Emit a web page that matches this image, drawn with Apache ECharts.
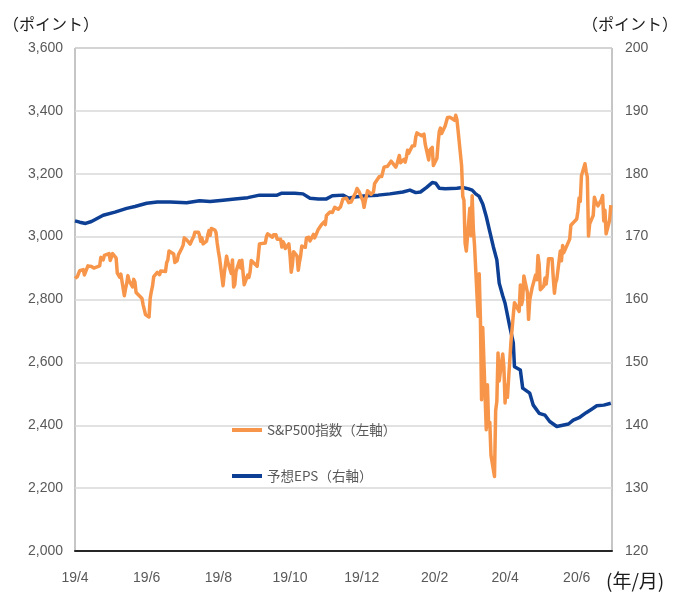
<!DOCTYPE html>
<html>
<head>
<meta charset="utf-8">
<script src="https://cdn.jsdelivr.net/npm/echarts@6/dist/echarts.min.js"></script>
<style>
html,body{margin:0;padding:0;background:#fff;}
#chart{width:677px;height:595px;}
</style>
</head>
<body>
<div id="chart"></div>
<script>
// ---- Data ----
const spxDates = [
'2019-04-01','2019-04-03','2019-04-05','2019-04-08','2019-04-09','2019-04-10','2019-04-12','2019-04-15','2019-04-17','2019-04-18','2019-04-22','2019-04-23','2019-04-25','2019-04-26','2019-04-30',
'2019-05-01','2019-05-02','2019-05-03','2019-05-06','2019-05-07','2019-05-09','2019-05-10','2019-05-13','2019-05-14','2019-05-15','2019-05-16','2019-05-17','2019-05-20','2019-05-21','2019-05-22','2019-05-23','2019-05-24','2019-05-28','2019-05-29','2019-05-30','2019-05-31',
'2019-06-03','2019-06-04','2019-06-05','2019-06-06','2019-06-07','2019-06-10','2019-06-12','2019-06-13','2019-06-14','2019-06-17','2019-06-18','2019-06-19','2019-06-20','2019-06-21','2019-06-24','2019-06-25','2019-06-26','2019-06-27','2019-06-28',
'2019-07-01','2019-07-02','2019-07-03','2019-07-05','2019-07-08','2019-07-09','2019-07-10','2019-07-11','2019-07-12','2019-07-15','2019-07-16','2019-07-17','2019-07-18','2019-07-19','2019-07-22','2019-07-23','2019-07-24','2019-07-25','2019-07-26','2019-07-29','2019-07-30','2019-07-31',
'2019-08-01','2019-08-02','2019-08-05','2019-08-06','2019-08-07','2019-08-08','2019-08-09','2019-08-12','2019-08-13','2019-08-14','2019-08-15','2019-08-16','2019-08-19','2019-08-20','2019-08-21','2019-08-22','2019-08-23','2019-08-26','2019-08-27','2019-08-28','2019-08-29','2019-08-30',
'2019-09-03','2019-09-04','2019-09-05','2019-09-06','2019-09-10','2019-09-11','2019-09-12','2019-09-13','2019-09-16','2019-09-17','2019-09-19','2019-09-20','2019-09-23','2019-09-24','2019-09-25','2019-09-26','2019-09-27','2019-09-30',
'2019-10-01','2019-10-02','2019-10-03','2019-10-04','2019-10-07','2019-10-08','2019-10-09','2019-10-10','2019-10-11','2019-10-14','2019-10-15','2019-10-16','2019-10-17','2019-10-18','2019-10-21','2019-10-22','2019-10-23','2019-10-24','2019-10-25','2019-10-28','2019-10-29','2019-10-30','2019-10-31',
'2019-11-01','2019-11-04','2019-11-06','2019-11-07','2019-11-08','2019-11-11','2019-11-13','2019-11-14','2019-11-15','2019-11-18','2019-11-19','2019-11-20','2019-11-21','2019-11-22','2019-11-25','2019-11-26','2019-11-27','2019-11-29',
'2019-12-02','2019-12-03','2019-12-04','2019-12-05','2019-12-06','2019-12-09','2019-12-10','2019-12-11','2019-12-12','2019-12-13','2019-12-16','2019-12-17','2019-12-18','2019-12-19','2019-12-20','2019-12-23','2019-12-24','2019-12-26','2019-12-27','2019-12-30','2019-12-31',
'2020-01-02','2020-01-03','2020-01-06','2020-01-07','2020-01-08','2020-01-09','2020-01-10','2020-01-13','2020-01-14','2020-01-15','2020-01-16','2020-01-17','2020-01-21','2020-01-22','2020-01-23','2020-01-24','2020-01-27','2020-01-28','2020-01-29','2020-01-30','2020-01-31',
'2020-02-03','2020-02-04','2020-02-05','2020-02-06','2020-02-07','2020-02-10','2020-02-11','2020-02-12','2020-02-13','2020-02-14','2020-02-18','2020-02-19','2020-02-20','2020-02-21','2020-02-24','2020-02-25','2020-02-26','2020-02-27','2020-02-28',
'2020-03-02','2020-03-03','2020-03-04','2020-03-05','2020-03-06','2020-03-09','2020-03-10','2020-03-11','2020-03-12','2020-03-13','2020-03-16','2020-03-17','2020-03-18','2020-03-19','2020-03-20','2020-03-23','2020-03-24','2020-03-25','2020-03-26','2020-03-27','2020-03-30','2020-03-31',
'2020-04-01','2020-04-02','2020-04-03','2020-04-06','2020-04-07','2020-04-08','2020-04-09','2020-04-13','2020-04-14','2020-04-15','2020-04-16','2020-04-17','2020-04-20','2020-04-21','2020-04-22','2020-04-23','2020-04-24','2020-04-27','2020-04-28','2020-04-29','2020-04-30',
'2020-05-01','2020-05-04','2020-05-05','2020-05-06','2020-05-07','2020-05-08','2020-05-11','2020-05-12','2020-05-13','2020-05-14','2020-05-15','2020-05-18','2020-05-19','2020-05-20','2020-05-21','2020-05-22','2020-05-26','2020-05-27','2020-05-28','2020-05-29',
'2020-06-01','2020-06-02','2020-06-03','2020-06-04','2020-06-05','2020-06-08','2020-06-09','2020-06-10','2020-06-11','2020-06-12','2020-06-15','2020-06-16','2020-06-17','2020-06-18','2020-06-19','2020-06-22','2020-06-23','2020-06-24','2020-06-25','2020-06-26','2020-06-29','2020-06-30'
];
const spxValues = [
2867,2873,2892,2895,2878,2888,2907,2905,2900,2905,2907,2934,2926,2940,2946,
2924,2918,2946,2932,2884,2871,2881,2812,2834,2851,2876,2860,2840,2864,2856,2822,2826,2803,2783,2789,2752,
2744,2804,2826,2843,2873,2886,2879,2891,2887,2889,2917,2926,2954,2950,2945,2918,2914,2924,2942,
2964,2973,2996,2990,2976,2980,2993,3000,3014,3014,3004,2985,2996,2977,2986,3005,3019,3004,3026,3021,3013,2980,
2954,2932,2844,2882,2884,2938,2919,2883,2926,2840,2848,2889,2923,2900,2925,2923,2847,2878,2870,2888,2924,2926,
2906,2938,2977,2979,2980,3001,3009,3007,2998,3006,3006,2992,2992,2967,2984,2977,2962,2977,
2940,2887,2910,2952,2938,2893,2919,2938,2970,2966,2996,2990,2998,2986,3007,2996,3005,3010,3023,3039,3036,3047,3038,
3067,3078,3077,3085,3093,3087,3095,3097,3120,3122,3120,3108,3104,3110,3134,3141,3153,3141,
3114,3093,3113,3117,3146,3135,3133,3142,3169,3169,3191,3192,3191,3206,3221,3224,3223,3240,3240,3221,3231,
3258,3235,3246,3237,3253,3275,3265,3288,3283,3289,3317,3330,3321,3321,3326,3295,3244,3276,3273,3284,3226,
3249,3298,3334,3345,3328,3352,3358,3379,3374,3380,3370,3386,3373,3338,3226,3128,3116,2979,2954,
3090,3003,3130,3024,2972,2747,2882,2741,2481,2711,2386,2529,2398,2409,2305,2237,2447,2476,2630,2541,2627,2585,
2471,2527,2489,2664,2659,2750,2790,2762,2846,2784,2800,2875,2823,2737,2799,2798,2837,2878,2863,2940,2912,
2831,2843,2868,2849,2882,2930,2930,2870,2820,2853,2864,2954,2923,2972,2949,2955,2992,3036,3030,3044,
3056,3081,3123,3112,3194,3232,3207,3190,3002,3041,3067,3125,3113,3115,3098,3118,3131,3050,3084,3009,3053,3100
];

const epsDates = [
'2019-04-01','2019-04-05','2019-04-10','2019-04-15','2019-04-25','2019-05-05','2019-05-15','2019-05-22','2019-06-01','2019-06-10','2019-06-21',
'2019-07-05','2019-07-16','2019-07-25','2019-08-05','2019-08-15','2019-08-26','2019-09-05','2019-09-20','2019-09-24','2019-10-05','2019-10-12',
'2019-10-18','2019-10-25','2019-11-01','2019-11-06','2019-11-15','2019-11-20','2019-11-25','2019-12-05','2019-12-15','2019-12-25',
'2020-01-05','2020-01-11','2020-01-16','2020-01-20','2020-01-25','2020-01-30','2020-02-02','2020-02-05','2020-02-10','2020-02-20','2020-02-25',
'2020-03-01','2020-03-04','2020-03-07','2020-03-10','2020-03-13','2020-03-16','2020-03-19','2020-03-22','2020-03-25','2020-03-27','2020-03-30',
'2020-04-01','2020-04-05','2020-04-08','2020-04-09','2020-04-14','2020-04-16','2020-04-22','2020-04-25','2020-04-30',
'2020-05-05','2020-05-09','2020-05-15','2020-05-20','2020-05-25','2020-05-29','2020-06-03','2020-06-09','2020-06-14','2020-06-18','2020-06-24','2020-06-30'
];
const epsValues = [
172.5,172.3,172.1,172.4,173.4,173.9,174.5,174.8,175.3,175.5,175.5,
175.4,175.7,175.6,175.8,176.0,176.2,176.6,176.6,176.9,176.9,176.8,
176.1,176.0,176.0,176.5,176.6,176.1,176.3,176.5,176.6,176.8,
177.1,177.4,177.0,177.1,177.8,178.6,178.5,177.7,177.6,177.7,177.8,
177.6,177.4,176.8,176.4,175.2,173.2,170.8,168.4,166.3,162.6,160.6,
159.4,155.7,153.1,149.3,148.8,145.9,145.1,143.2,141.9,
141.6,140.6,139.8,140.0,140.2,140.8,141.2,142.0,142.6,143.1,143.2,143.5
];

const seriesNames = ['S&P500指数（左軸）', '予想EPS（右軸）'];
const xStart = '2019-04-01';
const xEnd = '2020-07-01';
const xTickDates = ['2019-04-01','2019-06-01','2019-08-01','2019-10-01','2019-12-01','2020-02-01','2020-04-01','2020-06-01'];
const xTickLabels = ['19/4','19/6','19/8','19/10','19/12','20/2','20/4','20/6'];
const leftTicks = [2000,2200,2400,2600,2800,3000,3200,3400,3600];
const rightTicks = [120,130,140,150,160,170,180,190,200];

// ---- Helpers: convert dates to day numbers since xStart ----
function ts(s){ const p = s.split('-').map(Number); return Date.UTC(p[0], p[1]-1, p[2]); }
function dayNum(s){ return Math.round((ts(s) - ts(xStart)) / 86400000); }
const xTickDays = xTickDates.map(dayNum);

const chart = echarts.init(document.getElementById('chart'), null, {renderer:'canvas'});
const labelFont = 'Liberation Sans, Arial, sans-serif';
const jpFont = '"Noto Sans CJK JP", sans-serif';

chart.setOption({
  animation: false,
  backgroundColor: '#ffffff',
  grid: {left: 75, right: 65, top: 48, bottom: 44, show: true, borderColor: '#8c8c8c', borderWidth: 1, containLabel: false},
  legend: {
    data: seriesNames,
    orient: 'vertical', left: 227, top: 417, itemGap: 30, padding: 5,
    icon: 'rect', itemWidth: 30, itemHeight: 4,
    textStyle: {fontSize: 13.5, color: '#595959', fontFamily: jpFont, lineHeight: 16}
  },
  graphic: [
    {type: 'text', left: 3, top: 16, style: {text: '（ポイント）', fontSize: 16, fill: '#1a1a1a', fontFamily: jpFont}},
    {type: 'text', left: 582, top: 16, style: {text: '（ポイント）', fontSize: 16, fill: '#1a1a1a', fontFamily: jpFont}},
    {type: 'text', left: 606, top: 571, style: {text: '(年/月)', fontSize: 19, fill: '#1a1a1a', fontFamily: jpFont}}
  ],
  xAxis: {
    type: 'value',
    min: 0, max: dayNum(xEnd),
    axisLine: {show: true, onZero: false, lineStyle: {color: '#262626', width: 2}},
    axisTick: {show: false},
    splitLine: {show: false},
    axisLabel: {
      customValues: xTickDays,
      showMinLabel: true, showMaxLabel: true,
      margin: 20, fontSize: 14, color: '#595959', fontFamily: labelFont,
      formatter: function(v){ const i = xTickDays.indexOf(Math.round(v)); return i >= 0 ? xTickLabels[i] : ''; }
    }
  },
  yAxis: [
    {
      type: 'value', min: leftTicks[0], max: leftTicks[leftTicks.length-1], interval: 200,
      axisLine: {show: false}, axisTick: {show: false},
      splitLine: {show: true, lineStyle: {color: '#d9d9d9', width: 1.5}},
      axisLabel: {margin: 12, fontSize: 14, color: '#595959', fontFamily: labelFont,
        formatter: function(v){ return v.toLocaleString('en-US'); }}
    },
    {
      type: 'value', min: rightTicks[0], max: rightTicks[rightTicks.length-1], interval: 10,
      axisLine: {show: false}, axisTick: {show: false},
      splitLine: {show: false},
      axisLabel: {margin: 13, fontSize: 14, color: '#595959', fontFamily: labelFont}
    }
  ],
  series: [
    {
      name: seriesNames[0], type: 'line', yAxisIndex: 0, z: 3,
      data: spxDates.map((d,i)=>[dayNum(d), spxValues[i]]),
      showSymbol: false, symbol: 'none',
      lineStyle: {color: '#F7964A', width: 3.5, join: 'round'},
      itemStyle: {color: '#F7964A'}
    },
    {
      name: seriesNames[1], type: 'line', yAxisIndex: 1, z: 2,
      data: epsDates.map((d,i)=>[dayNum(d), epsValues[i]]),
      showSymbol: false, symbol: 'none',
      lineStyle: {color: '#0D3F94', width: 3.5, join: 'round'},
      itemStyle: {color: '#0D3F94'}
    }
  ]
});
</script>
</body>
</html>
